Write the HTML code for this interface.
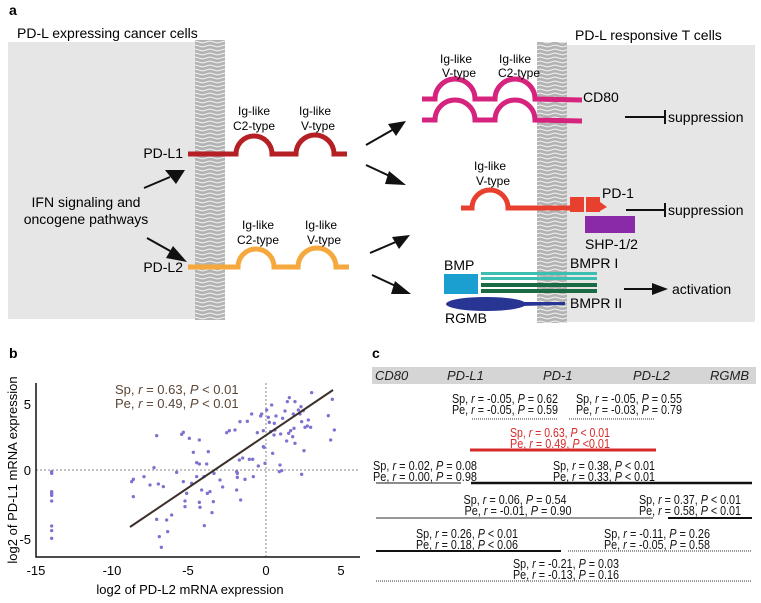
<!DOCTYPE html>
<html><head><meta charset="utf-8"><style>
html,body{margin:0;padding:0;background:#fff}
svg{display:block}
text{font-family:"Liberation Sans",sans-serif}
.t{font-size:13px;fill:#111}
</style></head><body>
<svg width="761" height="603" viewBox="0 0 761 603" xmlns="http://www.w3.org/2000/svg">
<defs>
<pattern id="mem" width="15" height="4" patternUnits="userSpaceOnUse">
<rect width="15" height="4" fill="#b3b3b3"/>
<path d="M0,1 L7.5,3 L15,1" stroke="#f4f4f4" stroke-width="1" fill="none"/>
</pattern>
</defs>

<!-- Panel a -->
<text x="9" y="15" font-size="14" font-weight="bold">a</text>
<rect x="8" y="42" width="188" height="277" fill="#e6e6e6"/>
<rect x="566" y="45" width="189" height="277" fill="#e6e6e6"/>
<text x="17" y="38" font-size="14">PD-L expressing cancer cells</text>
<text x="575" y="40" font-size="14">PD-L responsive T cells</text>
<rect x="195" y="40" width="30" height="280" fill="url(#mem)"/>
<rect x="537" y="42" width="30" height="281" fill="url(#mem)"/>

<path d="M188,154 L236,154 A18,18 0 0 1 272,154 L296,154 A19,19 0 0 1 334,154 L347,154" stroke="#b52025" stroke-width="5" fill="none"/>
<text x="183" y="158" font-size="14" text-anchor="end">PD-L1</text>
<text x="254" y="115" font-size="12" text-anchor="middle">Ig-like</text>
<text x="254" y="130" font-size="12" text-anchor="middle">C2-type</text>
<text x="315" y="115" font-size="12" text-anchor="middle">Ig-like</text>
<text x="318" y="130" font-size="12" text-anchor="middle">V-type</text>
<path d="M188,267 L238,267 A18,18 0 0 1 274,267 L298,267 A19,19 0 0 1 336,267 L349,267" stroke="#f5a83e" stroke-width="5" fill="none"/>
<text x="183" y="272" font-size="14" text-anchor="end">PD-L2</text>
<text x="258" y="229" font-size="12" text-anchor="middle">Ig-like</text>
<text x="258" y="244" font-size="12" text-anchor="middle">C2-type</text>
<text x="321" y="229" font-size="12" text-anchor="middle">Ig-like</text>
<text x="324" y="244" font-size="12" text-anchor="middle">V-type</text>
<text x="86" y="207" font-size="14" text-anchor="middle">IFN signaling and</text>
<text x="86" y="224" font-size="14" text-anchor="middle">oncogene pathways</text>
<g stroke="#111" stroke-width="2">
<line x1="144" y1="188" x2="170" y2="177"/><line x1="147" y1="238" x2="172" y2="252"/>
<line x1="366" y1="145" x2="394" y2="129"/><line x1="366" y1="165" x2="394" y2="178"/>
<line x1="370" y1="253" x2="398" y2="241"/><line x1="372" y1="275" x2="400" y2="288"/>
</g>
<g fill="#111">
<polygon points="185,170 165,170 176,184"/>
<polygon points="187,262 166,258 173,246"/>
<polygon points="406,121 388,124 396,136"/>
<polygon points="406,185 389,171 385,184"/>
<polygon points="410,235 392,237 399,249"/>
<polygon points="411,294 395,281 391,294"/>
</g>

<g stroke="#d6247e" stroke-width="5" fill="none">
<path d="M422,99 L435,99 A20,20 0 0 1 475,99 L495,99 A20,20 0 0 1 535,99 L582,100"/>
<path d="M422,120 L435,120 A20,20 0 0 1 475,120 L495,120 A20,20 0 0 1 535,120 L582,121"/>
</g>
<text x="456" y="63" font-size="12" text-anchor="middle">Ig-like</text>
<text x="459" y="77" font-size="12" text-anchor="middle">V-type</text>
<text x="515" y="63" font-size="12" text-anchor="middle">Ig-like</text>
<text x="519" y="77" font-size="12" text-anchor="middle">C2-type</text>
<text x="583" y="102" font-size="14">CD80</text>
<line x1="625" y1="117" x2="664" y2="117" stroke="#111" stroke-width="2"/>
<line x1="665" y1="110" x2="665" y2="124" stroke="#111" stroke-width="2"/>
<text x="668" y="122" font-size="14">suppression</text>
<path d="M461,208 L472,208 A18,18 0 0 1 508,208 L578,208" stroke="#e8402f" stroke-width="5" fill="none"/>
<rect x="570" y="197" width="14" height="15" fill="#e8402f"/><rect x="586" y="197" width="14" height="15" fill="#e8402f"/>
<polygon points="600,202 607,207 600,211" fill="#e8402f"/>
<text x="490" y="170" font-size="12" text-anchor="middle">Ig-like</text>
<text x="493" y="185" font-size="12" text-anchor="middle">V-type</text>
<text x="602" y="198" font-size="14">PD-1</text>
<line x1="626" y1="210" x2="664" y2="210" stroke="#111" stroke-width="2"/>
<line x1="665" y1="203" x2="665" y2="217" stroke="#111" stroke-width="2"/>
<text x="668" y="215" font-size="14">suppression</text>
<rect x="585" y="216" width="50" height="17" fill="#8a2aa8"/>
<text x="585" y="249" font-size="14">SHP-1/2</text>
<rect x="444" y="274" width="34" height="20" fill="#1a9fd0"/>
<text x="444" y="270" font-size="14">BMP</text>
<rect x="481" y="272" width="116" height="3" fill="#3cbfb0"/>
<rect x="481" y="277" width="116" height="3" fill="#3cbfb0"/>
<rect x="481" y="283" width="116" height="4" fill="#1a6b44"/>
<rect x="481" y="289" width="116" height="4" fill="#1a6b44"/>
<text x="570" y="268" font-size="14">BMPR I</text>
<ellipse cx="486" cy="304" rx="40" ry="7" fill="#283593"/>
<path d="M520,302 L565,302 L565,305 L520,306z" fill="#283593"/>
<text x="570" y="308" font-size="14">BMPR II</text>
<text x="466" y="323" font-size="14" text-anchor="middle">RGMB</text>
<line x1="624" y1="289" x2="654" y2="289" stroke="#111" stroke-width="2"/>
<polygon points="652,283 668,289 652,295" fill="#111"/>
<text x="672" y="294" font-size="14">activation</text>

<!-- Panel b -->
<text x="9" y="358" font-size="14" font-weight="bold">b</text>
<line x1="266" y1="383" x2="266" y2="557" stroke="#888" stroke-dasharray="2,2" stroke-width="1"/>
<line x1="36" y1="470" x2="360" y2="470" stroke="#888" stroke-dasharray="2,2" stroke-width="1"/>
<path d="M36,383 L36,557 L360,557" stroke="#111" stroke-width="1.5" fill="none"/>
<g fill="#7c72d0" transform="translate(0,340) scale(0.33333)">
<circle cx="155" cy="395" r="5"/><circle cx="155" cy="400" r="5"/><circle cx="155" cy="455" r="5"/><circle cx="155" cy="460" r="5"/><circle cx="155" cy="466" r="5"/><circle cx="155" cy="483" r="5"/><circle cx="155" cy="558" r="5"/><circle cx="155" cy="572" r="5"/><circle cx="155" cy="595" r="5"/>
<circle cx="395" cy="425" r="5"/><circle cx="400" cy="418" r="5"/><circle cx="400" cy="470" r="5"/><circle cx="432" cy="410" r="5"/><circle cx="450" cy="435" r="5"/><circle cx="462" cy="383" r="5"/><circle cx="470" cy="287" r="5"/><circle cx="470" cy="538" r="5"/><circle cx="475" cy="432" r="5"/><circle cx="478" cy="590" r="5"/><circle cx="484" cy="622" r="5"/><circle cx="490" cy="440" r="5"/><circle cx="500" cy="540" r="5"/><circle cx="503" cy="575" r="5"/><circle cx="515" cy="525" r="5"/><circle cx="530" cy="397" r="5"/><circle cx="545" cy="283" r="5"/><circle cx="550" cy="277" r="5"/><circle cx="550" cy="425" r="5"/><circle cx="555" cy="483" r="5"/><circle cx="555" cy="500" r="5"/><circle cx="560" cy="460" r="5"/><circle cx="568" cy="295" r="5"/><circle cx="580" cy="337" r="5"/><circle cx="575" cy="430" r="5"/><circle cx="590" cy="368" r="5"/><circle cx="590" cy="410" r="5"/><circle cx="598" cy="300" r="5"/><circle cx="598" cy="372" r="5"/><circle cx="598" cy="487" r="5"/><circle cx="600" cy="502" r="5"/><circle cx="605" cy="450" r="5"/><circle cx="612" cy="410" r="5"/><circle cx="613" cy="557" r="5"/><circle cx="620" cy="372" r="5"/><circle cx="622" cy="460" r="5"/><circle cx="625" cy="335" r="5"/><circle cx="630" cy="455" r="5"/><circle cx="636" cy="518" r="5"/><circle cx="640" cy="485" r="5"/><circle cx="642" cy="400" r="5"/><circle cx="660" cy="420" r="5"/><circle cx="668" cy="441" r="5"/><circle cx="680" cy="278" r="5"/><circle cx="688" cy="272" r="5"/><circle cx="705" cy="270" r="5"/><circle cx="710" cy="450" r="5"/><circle cx="710" cy="395" r="5"/><circle cx="712" cy="400" r="5"/><circle cx="712" cy="412" r="5"/><circle cx="720" cy="245" r="5"/><circle cx="718" cy="360" r="5"/><circle cx="722" cy="480" r="5"/><circle cx="728" cy="354" r="5"/><circle cx="735" cy="418" r="5"/><circle cx="742" cy="244" r="5"/><circle cx="748" cy="358" r="5"/><circle cx="755" cy="222" r="5"/><circle cx="758" cy="358" r="5"/><circle cx="760" cy="410" r="5"/><circle cx="772" cy="278" r="5"/><circle cx="775" cy="378" r="5"/><circle cx="782" cy="228" r="5"/><circle cx="785" cy="222" r="5"/><circle cx="790" cy="320" r="5"/><circle cx="790" cy="272" r="5"/><circle cx="792" cy="322" r="5"/><circle cx="795" cy="370" r="5"/><circle cx="800" cy="210" r="5"/><circle cx="805" cy="232" r="5"/><circle cx="808" cy="247" r="5"/><circle cx="812" cy="275" r="5"/><circle cx="815" cy="195" r="5"/><circle cx="818" cy="340" r="5"/><circle cx="823" cy="250" r="5"/><circle cx="822" cy="285" r="5"/><circle cx="825" cy="270" r="5"/><circle cx="828" cy="228" r="5"/><circle cx="838" cy="395" r="5"/><circle cx="840" cy="375" r="5"/><circle cx="842" cy="282" r="5"/><circle cx="845" cy="392" r="5"/><circle cx="848" cy="235" r="5"/><circle cx="855" cy="213" r="5"/><circle cx="860" cy="303" r="5"/><circle cx="862" cy="185" r="5"/><circle cx="866" cy="280" r="5"/><circle cx="868" cy="173" r="5"/><circle cx="872" cy="272" r="5"/><circle cx="878" cy="290" r="5"/><circle cx="880" cy="222" r="5"/><circle cx="882" cy="265" r="5"/><circle cx="885" cy="185" r="5"/><circle cx="885" cy="310" r="5"/><circle cx="895" cy="210" r="5"/><circle cx="900" cy="222" r="5"/><circle cx="903" cy="200" r="5"/><circle cx="905" cy="403" r="5"/><circle cx="905" cy="245" r="5"/><circle cx="910" cy="212" r="5"/><circle cx="912" cy="332" r="5"/><circle cx="915" cy="262" r="5"/><circle cx="922" cy="258" r="5"/><circle cx="925" cy="240" r="5"/><circle cx="932" cy="262" r="5"/><circle cx="935" cy="158" r="5"/><circle cx="985" cy="227" r="5"/><circle cx="992" cy="300" r="5"/><circle cx="997" cy="178" r="5"/><circle cx="1003" cy="270" r="5"/>
</g>
<line x1="130" y1="527" x2="333" y2="390" stroke="#3d2f2a" stroke-width="2"/>
<text x="115" y="394" font-size="13" fill="#5a4636">Sp, <tspan font-style="italic">r</tspan> = 0.63, <tspan font-style="italic">P</tspan> &lt; 0.01</text>
<text x="115" y="408" font-size="13" fill="#5a4636">Pe, <tspan font-style="italic">r</tspan> = 0.49, <tspan font-style="italic">P</tspan> &lt; 0.01</text>
<g font-size="13" text-anchor="middle">
<text x="36" y="575">-15</text><text x="112" y="575">-10</text><text x="188" y="575">-5</text><text x="266" y="575">0</text><text x="341" y="575">5</text>
</g>
<g font-size="13" text-anchor="end">
<text x="31" y="409">5</text><text x="31" y="475">0</text><text x="31" y="544">-5</text>
</g>
<text x="190" y="594" font-size="13" text-anchor="middle">log2 of PD-L2 mRNA expression</text>
<text transform="translate(17,470) rotate(-90)" font-size="13" text-anchor="middle">log2 of PD-L1 mRNA expression</text>

<!-- Panel c -->
<text x="372" y="358" font-size="14" font-weight="bold">c</text>
<rect x="372" y="367" width="384" height="17" fill="#d5d5d5"/>
<g font-size="13" font-style="italic" fill="#222">
<text x="375" y="380">CD80</text><text x="447" y="380">PD-L1</text><text x="543" y="380">PD-1</text><text x="633" y="380">PD-L2</text><text x="710" y="380">RGMB</text>
</g>
<g class="t" text-anchor="middle">
<text x="505" y="403" textLength="106" lengthAdjust="spacingAndGlyphs">Sp, <tspan font-style="italic">r</tspan> = -0.05, <tspan font-style="italic">P</tspan> = 0.62</text>
<text x="505" y="414" textLength="106" lengthAdjust="spacingAndGlyphs">Pe, <tspan font-style="italic">r</tspan> = -0.05, <tspan font-style="italic">P</tspan> = 0.59</text>
<text x="629" y="403" textLength="106" lengthAdjust="spacingAndGlyphs">Sp, <tspan font-style="italic">r</tspan> = -0.05, <tspan font-style="italic">P</tspan> = 0.55</text>
<text x="629" y="414" textLength="106" lengthAdjust="spacingAndGlyphs">Pe, <tspan font-style="italic">r</tspan> = -0.03, <tspan font-style="italic">P</tspan> = 0.79</text>
<text x="560" y="437" textLength="100" lengthAdjust="spacingAndGlyphs" fill="#d62a2a">Sp, <tspan font-style="italic">r</tspan> = 0.63, <tspan font-style="italic">P</tspan> &lt; 0.01</text>
<text x="560" y="448" textLength="100" lengthAdjust="spacingAndGlyphs" fill="#d62a2a">Pe, <tspan font-style="italic">r</tspan> = 0.49, <tspan font-style="italic">P</tspan> &lt;0.01</text>
<text x="604" y="470" textLength="102" lengthAdjust="spacingAndGlyphs">Sp, <tspan font-style="italic">r</tspan> = 0.38, <tspan font-style="italic">P</tspan> &lt; 0.01</text>
<text x="604" y="481" textLength="102" lengthAdjust="spacingAndGlyphs">Pe, <tspan font-style="italic">r</tspan> = 0.33, <tspan font-style="italic">P</tspan> &lt; 0.01</text>
<text x="515" y="504" textLength="103" lengthAdjust="spacingAndGlyphs">Sp, <tspan font-style="italic">r</tspan> = 0.06, <tspan font-style="italic">P</tspan> = 0.54</text>
<text x="518" y="515" textLength="107" lengthAdjust="spacingAndGlyphs">Pe, <tspan font-style="italic">r</tspan> = -0.01, <tspan font-style="italic">P</tspan> = 0.90</text>
<text x="690" y="504" textLength="102" lengthAdjust="spacingAndGlyphs">Sp, <tspan font-style="italic">r</tspan> = 0.37, <tspan font-style="italic">P</tspan> &lt; 0.01</text>
<text x="690" y="515" textLength="102" lengthAdjust="spacingAndGlyphs">Pe, <tspan font-style="italic">r</tspan> = 0.58, <tspan font-style="italic">P</tspan> &lt; 0.01</text>
<text x="467" y="538" textLength="102" lengthAdjust="spacingAndGlyphs">Sp, <tspan font-style="italic">r</tspan> = 0.26, <tspan font-style="italic">P</tspan> &lt; 0.01</text>
<text x="467" y="549" textLength="102" lengthAdjust="spacingAndGlyphs">Pe, <tspan font-style="italic">r</tspan> = 0.18, <tspan font-style="italic">P</tspan> &lt; 0.06</text>
<text x="657" y="538" textLength="106" lengthAdjust="spacingAndGlyphs">Sp, <tspan font-style="italic">r</tspan> = -0.11, <tspan font-style="italic">P</tspan> = 0.26</text>
<text x="657" y="549" textLength="106" lengthAdjust="spacingAndGlyphs">Pe, <tspan font-style="italic">r</tspan> = -0.05, <tspan font-style="italic">P</tspan> = 0.58</text>
<text x="566" y="568" textLength="106" lengthAdjust="spacingAndGlyphs">Sp, <tspan font-style="italic">r</tspan> = -0.21, <tspan font-style="italic">P</tspan> = 0.03</text>
<text x="566" y="579" textLength="106" lengthAdjust="spacingAndGlyphs">Pe, <tspan font-style="italic">r</tspan> = -0.13, <tspan font-style="italic">P</tspan> = 0.16</text>
</g>
<g class="t">
<text x="373" y="470" textLength="104" lengthAdjust="spacingAndGlyphs">Sp, <tspan font-style="italic">r</tspan> = 0.02, <tspan font-style="italic">P</tspan> = 0.08</text>
<text x="373" y="481" textLength="104" lengthAdjust="spacingAndGlyphs">Pe, <tspan font-style="italic">r</tspan> = 0.00, <tspan font-style="italic">P</tspan> = 0.98</text>
</g>
<g fill="none">
<line x1="472" y1="419" x2="558" y2="419" stroke="#333" stroke-dasharray="1,1"/>
<line x1="569" y1="419" x2="655" y2="419" stroke="#333" stroke-dasharray="1,1"/>
<line x1="470" y1="450" x2="656" y2="450" stroke="#d62a2a" stroke-width="3"/>
<line x1="376" y1="483" x2="461" y2="483" stroke="#666" stroke-width="1.5"/>
<line x1="471" y1="483" x2="752" y2="483" stroke="#111" stroke-width="2.5"/>
<line x1="376" y1="518" x2="653" y2="518" stroke="#777" stroke-width="1.5"/>
<line x1="668" y1="518" x2="752" y2="518" stroke="#111" stroke-width="2"/>
<line x1="376" y1="551" x2="561" y2="551" stroke="#111" stroke-width="2"/>
<line x1="568" y1="551" x2="751" y2="551" stroke="#333" stroke-dasharray="1,1"/>
<line x1="376" y1="581" x2="751" y2="581" stroke="#333" stroke-dasharray="1,1"/>
</g>
</svg>
</body></html>
